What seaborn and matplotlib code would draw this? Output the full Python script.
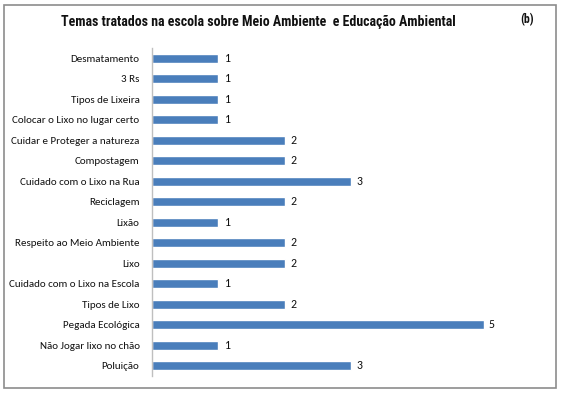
import numpy as np
import pandas as pd
import seaborn as sns
import matplotlib.pyplot as plt
from matplotlib.patches import Rectangle

temas = ["Desmatamento", "3 Rs", "Tipos de Lixeira", "Colocar o Lixo no lugar certo",
         "Cuidar e Proteger a natureza", "Compostagem", "Cuidado com o Lixo na Rua",
         "Reciclagem", "Lixão", "Respeito ao Meio Ambiente", "Lixo",
         "Cuidado com o Lixo na Escola", "Tipos de Lixo", "Pegada Ecológica",
         "Não Jogar lixo no chão", "Poluição"]
valores = [1, 1, 1, 1, 2, 2, 3, 2, 1, 2, 2, 1, 2, 5, 1, 3]

df = pd.DataFrame({"tema": temas, "valor": valores})

sns.set_style("white")
plt.rcParams['font.family'] = ['Carlito', 'DejaVu Sans']

W, H = 564, 394
fig = plt.figure(figsize=(W / 100, H / 100), dpi=100)
# moldura
fig.patches.append(Rectangle((4 / W, 6 / H), 552 / W, 383 / H, transform=fig.transFigure,
                             fill=False, edgecolor="#8c8c8c", linewidth=1.2))

ax = fig.add_axes([152 / W, 18 / H, 398 / W, 328 / H])
sns.barplot(data=df, y="tema", x="valor", orient="h", color="#4a7ebb",
            saturation=1, width=0.42, ax=ax)
ax.set_xlim(0, 6)
ax.set_ylim(15.5, -0.5)
ax.set_xlabel("")
ax.set_ylabel("")
ax.set_xticks([])
for s in ["top", "right", "bottom"]:
    ax.spines[s].set_visible(False)
ax.spines["left"].set_color("#bfbfbf")
ax.spines["left"].set_linewidth(1)
ax.tick_params(axis="y", length=0, pad=9, labelsize=7.9, labelcolor="#111111")

for i, v in enumerate(valores):
    ax.text(v + 0.08, i, str(v), va="center", ha="left", fontsize=8.5, color="#111111")

fig.text(61 / W, 1 - 22 / H, "Temas tratados na escola sobre Meio Ambiente  e Educação Ambiental",
         fontsize=10, fontweight="bold", family=["Roboto Condensed", "DejaVu Sans"],
         va="center", ha="left", color="#111111")
fig.text(527 / W, 1 - 20 / H, "(b)", fontsize=8.5, fontweight="bold",
         family=["Roboto Condensed", "DejaVu Sans"], va="center", ha="center", color="#111111")

fig.savefig("out.png", dpi=100)
